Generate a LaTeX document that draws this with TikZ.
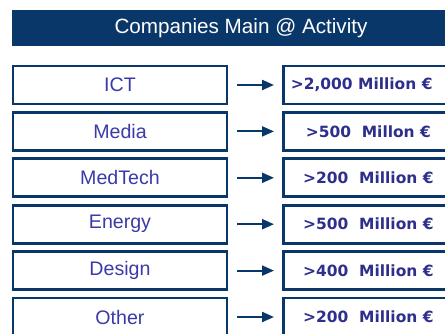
\documentclass[tikz,border=0pt]{standalone}
\usepackage{fontspec}
\setmainfont{Liberation Sans}
\newfontfamily\widefont{DejaVu Sans}
\usetikzlibrary{arrows.meta}
\definecolor{navy}{RGB}{10,55,105}
\definecolor{inkblue}{RGB}{58,58,168}
\definecolor{boldblue}{RGB}{46,46,140}
\tikzset{every picture/.style={line width=0.75pt}}
\tikzset{
  titlebar/.style={fill=navy,text=white,minimum width=343.5pt,minimum height=27pt,inner sep=0pt,font=\fontsize{15.5}{18}\selectfont},
  areabox/.style={draw=navy,line width=2pt,fill=white,text=inkblue,minimum width=160.5pt,minimum height=28.5pt,inner sep=0pt,font=\fontsize{14.7}{17}\selectfont},
  valuebox/.style={draw=navy,line width=2pt,fill=white,text=boldblue,anchor=west,minimum width=127.5pt,minimum height=28.5pt,inner sep=0pt,font=\widefont\bfseries\fontsize{11.6}{14}\selectfont},
  linkarrow/.style={draw=navy,line width=1.6pt,-{Triangle[length=9pt,width=7.5pt]},shorten <=6.75pt,shorten >=6pt}
}

\begin{document}
\begin{tikzpicture}[x=0.75pt,y=0.75pt,yscale=-1,xscale=1]
\useasboundingbox (0,0) rectangle (445,334);
\clip (0,0) rectangle (445,334);

% Title Bar
\node (title) [titlebar] at (241,28) {Companies Main @ Activity};

% Text Node
\node (ict) [areabox] at (120,85) {ICT};
\node (media) [areabox] at (120,131.4) {Media};
\node (medtech) [areabox] at (120,177.8) {MedTech};
\node (energy) [areabox] at (120,224.2) {Energy};
\node (design) [areabox] at (120,270.6) {Design};
\node (other) [areabox] at (120,317) {Other};

% Text Node
\node (ictval) [valuebox] at (282,85) {>2,000 Million €\hspace*{10pt}};
\node (mediaval) [valuebox] at (282,131.4) {>500\ \ Millon €};
\node (medtechval) [valuebox] at (282,177.8) {>200\ \ Million €};
\node (energyval) [valuebox] at (282,224.2) {>500\ \ Million €};
\node (designval) [valuebox] at (282,270.6) {>400\ \ Million €};
\node (otherval) [valuebox] at (282,317) {>200\ \ Million €};

% Straight Lines
\draw [linkarrow] (ict) -- (ictval);
\draw [linkarrow] (media) -- (mediaval);
\draw [linkarrow] (medtech) -- (medtechval);
\draw [linkarrow] (energy) -- (energyval);
\draw [linkarrow] (design) -- (designval);
\draw [linkarrow] (other) -- (otherval);

\end{tikzpicture}
\end{document}
